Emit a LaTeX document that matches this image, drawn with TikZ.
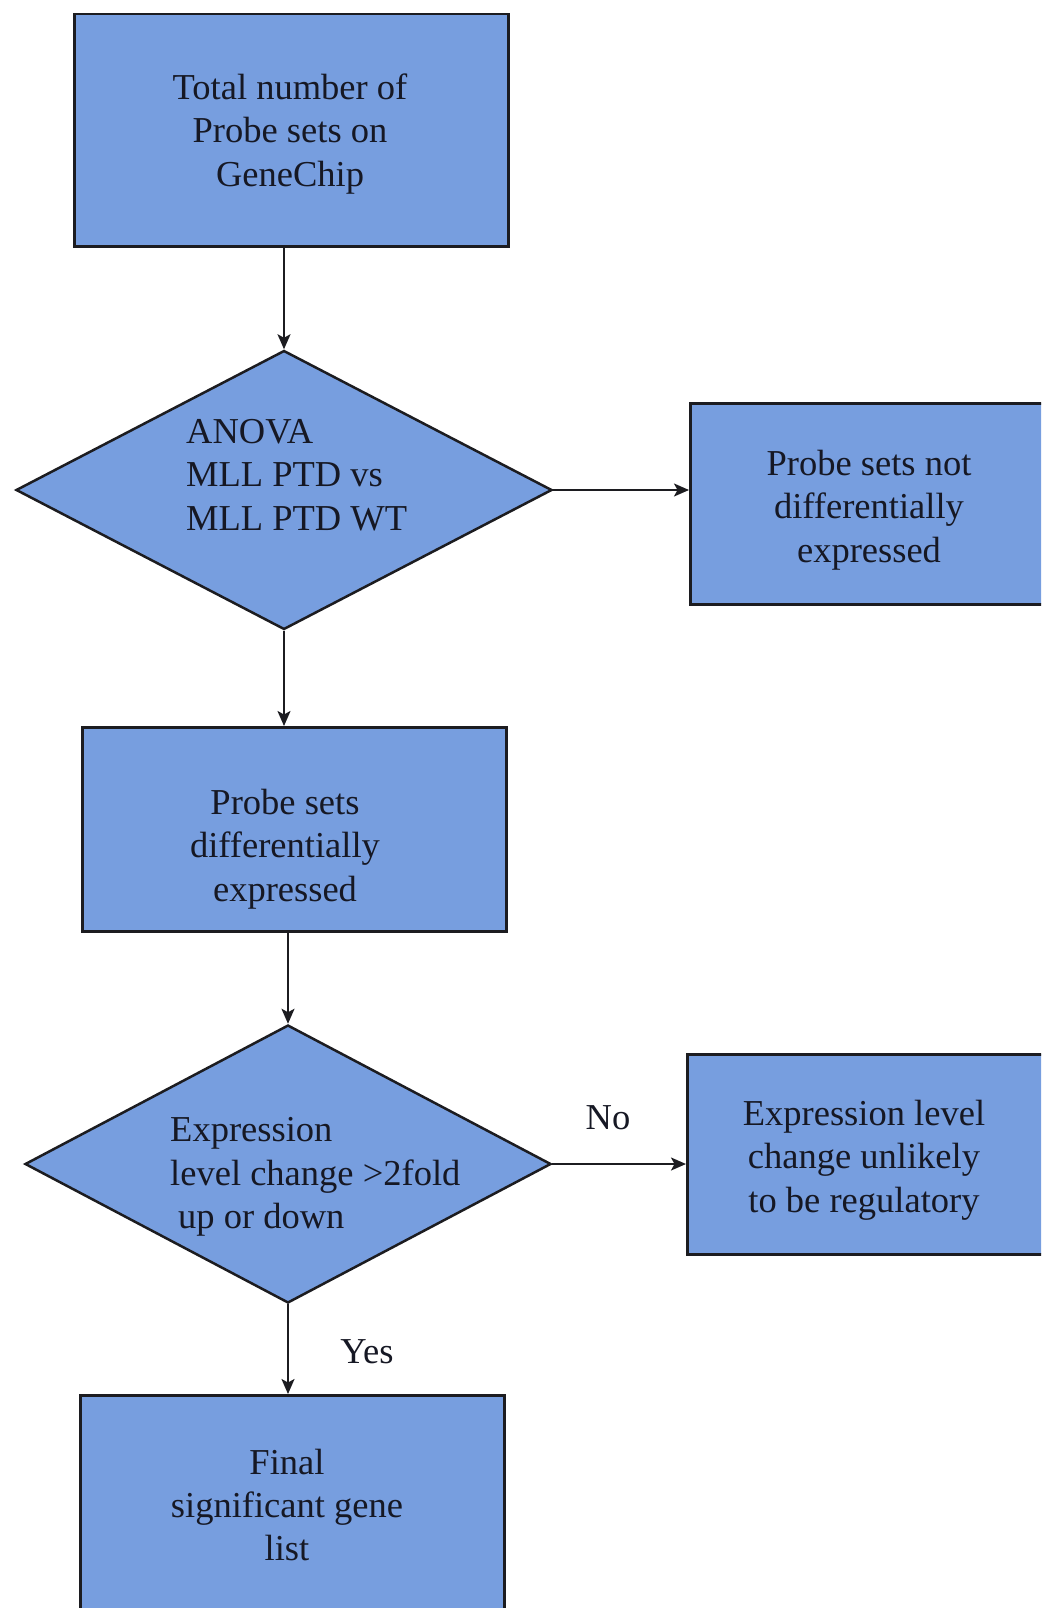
\documentclass[tikz,border=0pt]{standalone}
\usepackage{fontspec}
\setmainfont{Liberation Serif}
\usetikzlibrary{shapes.geometric,arrows.meta}
\definecolor{boxblue}{RGB}{119,158,223}
\definecolor{edgecol}{RGB}{28,28,32}
\definecolor{txtcol}{RGB}{22,24,36}
\begin{document}
\begin{tikzpicture}[x=1pt,y=-1pt,
  flowbox/.style={draw=edgecol, line width=2.5pt, fill=boxblue, rectangle, inner sep=0pt, anchor=north west},
  decision/.style={draw=edgecol, line width=2.5pt, fill=boxblue, diamond, inner sep=0pt},
  lbl/.style={text=txtcol, font=\fontsize{36.5}{43.3}\selectfont, inner sep=0pt},
  arr/.style={draw=edgecol, line width=1.9pt, -{Stealth[length=15pt,width=13pt,inset=3.5pt]}}
]
\useasboundingbox (0,0) rectangle (1041,1608);
\fill[white] (0,0) rectangle (1041,1608);
\clip (0,0) rectangle (1041,1608);

% boxes
\node[flowbox, minimum width=434pt, minimum height=232pt] (b1) at (73,13) {};
\node[decision, minimum width=536pt, minimum height=279pt] (d1) at (284,490) {};
\node[flowbox, minimum width=380pt, minimum height=201pt] (rb1) at (689,402) {};
\node[flowbox, minimum width=424pt, minimum height=204pt] (b2) at (81,726) {};
\node[decision, minimum width=526pt, minimum height=278pt] (d2) at (288,1164) {};
\node[flowbox, minimum width=380pt, minimum height=200pt] (rb2) at (686,1053) {};
\node[flowbox, minimum width=424pt, minimum height=240pt] (b3) at (79,1394) {};

% texts
\node[lbl, align=center] (t1) at (290,134) {Total number of\\Probe sets on\\GeneChip};
\node[lbl, align=left, anchor=west] (td1) at (186,475) {ANOVA\\MLL PTD vs\\MLL PTD WT};
\node[lbl, align=center] (trb1) at (869,510) {Probe sets not\\differentially\\expressed};
\node[lbl, align=center] (tb2) at (285,849) {Probe sets\\differentially\\expressed};
\node[lbl, align=left, anchor=west] (td2) at (170,1177) {Expression\\level change >2fold\\\hspace*{8pt}up or down};
\node[lbl, align=center] (trb2) at (864,1160) {Expression level\\change unlikely\\to be regulatory};
\node[lbl, align=center] (tb3) at (287,1505) {Final\\significant gene\\list};

% connectors
\draw[arr] (d1.north |- b1.south) -- (d1.north);
\draw[arr] (d1.east) -- (d1.east -| rb1.west);
\draw[arr] (d1.south) -- (d1.south |- b2.north);
\draw[arr] (d2.north |- b2.south) -- (d2.north);
\draw[arr] (d2.east) -- (d2.east -| rb2.west);
\draw[arr] (d2.south) -- (d2.south |- b3.north);

% branch labels
\node[lbl] (no) at (608,1118) {No};
\node[lbl] (yes) at (367,1352) {Yes};
\end{tikzpicture}
\end{document}
